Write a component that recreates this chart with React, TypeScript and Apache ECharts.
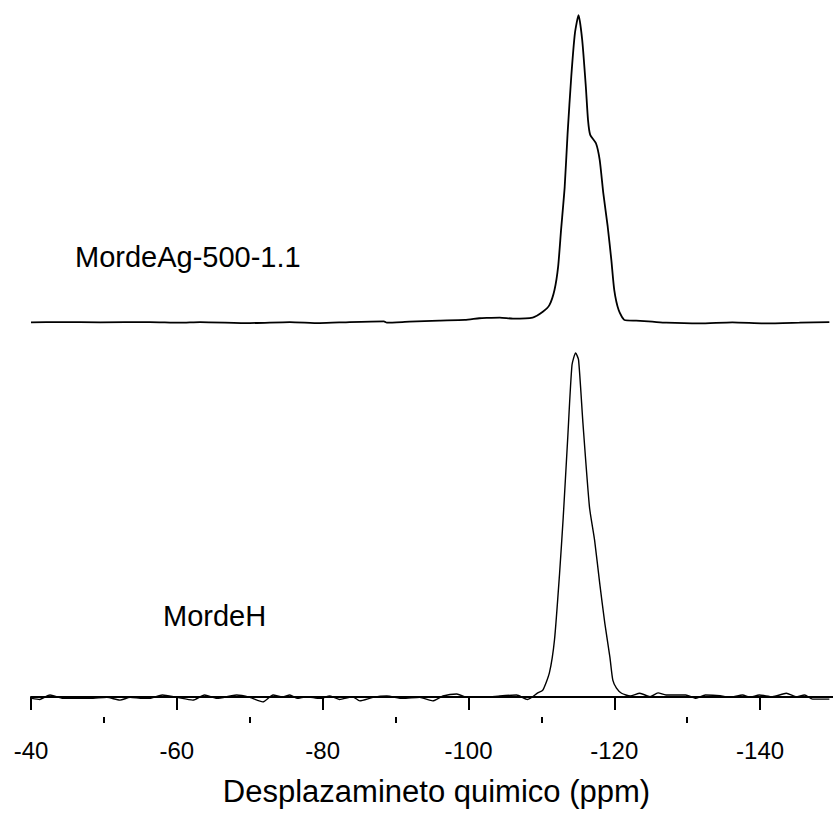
import React, { useEffect, useRef } from "react";
import * as echarts from "echarts";

// Chemical shift (ppm) and intensity (a.u.)
const upperPpm = [
  -40.0, -44.0, -49.5, -56.3, -60.4, -63.2, -70.0, -75.5, -79.6, -83.7, -88.4, -88.8,
  -91.9, -96.0, -99.5, -101.5, -102.5, -104.3, -106.1, -108.8, -110.2, -111.1, -111.8,
  -112.3, -112.7, -113.2, -113.6, -114.1, -114.6, -115.1, -115.6, -116.1, -116.4, -116.7,
  -117.5, -118.0, -118.5, -119.1, -119.6, -120.0, -120.6, -121.4, -123.0, -125.2, -127.1,
  -131.7, -136.2, -140.8, -145.4, -149.5,
];
const upperInt = [
  -0.1, 0, -0.1, 0, -0.2, 0, -0.3, 0, -0.3, 0, 0.2, -0.2,
  0.1, 0.4, 0.6, 1.1, 1.2, 1.3, 1.0, 1.3, 3.0, 4.9, 9.3,
  16.1, 26.7, 39.3, 54.9, 71.3, 83.9, 89.2, 82.0, 68.4, 58.7, 54.4,
  51.9, 47.1, 37.4, 27.7, 18.0, 9.3, 3.5, 0.6, 0.4, 0.1, -0.2,
  -0.4, -0.1, -0.4, -0.2, 0,
];

const lowerPpm = [
  -40.1, -41.2, -42.6, -44.4, -48.1, -50.4, -52.2, -53.6, -55.3, -56.3, -58.0, -60.0,
  -62.2, -63.8, -65.5, -68.2, -70.0, -71.8, -73.2, -74.5, -75.5, -76.5, -77.8, -79.6,
  -81.0, -82.3, -84.1, -85.1, -86.9, -88.8, -91.0, -93.3, -95.1, -96.5, -98.4, -99.8,
  -102.5, -104.3, -106.6, -108.1, -109.5, -110.2, -111.1, -111.8, -112.5, -113.0, -113.6,
  -114.2, -114.7, -115.1, -115.7, -116.6, -117.3, -118.0, -118.7, -119.4, -119.8, -120.3,
  -121.0, -122.2, -123.5, -124.9, -126.0, -127.1, -128.5, -129.8, -131.2, -132.5, -134.5,
  -135.8, -137.6, -138.6, -139.9, -141.7, -143.6, -144.9, -146.1, -147.2, -149.5,
];
const lowerInt = [
  -0.4, -0.7, 0.6, -0.4, -0.4, -0.1, -0.9, -0.1, -0.4, -0.4, 0.6, -0.1,
  -0.9, 0.6, -0.4, 0.6, -0.1, -1.4, 0.6, 0.1, 0.6, -0.4, 0.1, -0.4,
  0.3, -0.7, 0.1, -1.1, -0.1, 0.3, -0.4, -0.1, -1.1, 0.3, 0.9, -0.1,
  -0.1, 0.3, 0.6, -0.7, 1.2, 2.0, 7.0, 16.6, 36.0, 52.3, 74.7,
  96.5, 100, 98.0, 79.7, 55.2, 45.6, 33.1, 21.5, 11.6, 4.9, 2.6,
  1.1, 0.3, 1.1, 0.1, 1.2, 0.6, 0.6, 0.6, -0.4, 0.6, 0.4,
  -0.1, 0.6, -0.1, 0.6, 0.1, 1.1, 0.1, 0.6, -0.6, -0.6,
];

const seriesNames = ["MordeAg-500-1.1", "MordeH"];
const UPPER_OFFSET = 109; // vertical stacking offset of the upper trace
const majorTicks = [-40, -60, -80, -100, -120, -140];
const minorTicks = [-50, -70, -90, -110, -130];
const xTitle = "Desplazamineto quimico (ppm)";

const FONT = "'Liberation Sans', Arial, Helvetica, sans-serif";

export default function App() {
  const ref = useRef<HTMLDivElement>(null);
  useEffect(() => {
    if (!ref.current) return;
    const chart = echarts.init(ref.current, null, { renderer: "svg" });
    const upperData = upperPpm.map((x, i) => [x, upperInt[i] + UPPER_OFFSET]);
    const lowerData = lowerPpm.map((x, i) => [x, lowerInt[i]]);
    chart.setOption({
      animation: false,
      backgroundColor: "#ffffff",
      grid: { left: 31, top: 0, right: 0, height: 717, containLabel: false },
      xAxis: [
        {
          type: "value",
          min: -150,
          max: -40,
          interval: 10,
          inverse: true,
          position: "bottom",
          name: xTitle,
          nameLocation: "middle",
          nameGap: 59,
          nameTextStyle: {
            fontFamily: FONT,
            fontSize: 31,
            color: "#000",
            padding: [0, 0, 0, 9],
          },
          axisLine: { show: true, lineStyle: { color: "#000", width: 2 } },
          axisTick: {
            show: true,
            length: 13,
            customValues: majorTicks,
            lineStyle: { color: "#000", width: 2 },
          },
          splitLine: { show: false },
          axisLabel: {
            margin: 21,
            fontFamily: FONT,
            fontSize: 24,
            color: "#000",
            customValues: majorTicks,
          },
        },
        {
          type: "value",
          min: -150,
          max: -40,
          interval: 10,
          inverse: true,
          position: "bottom",
          offset: 0,
          axisLine: { show: false },
          axisTick: {
            show: true,
            length: 6,
            customValues: minorTicks,
            lineStyle: { color: "#000", width: 2 },
          },
          axisLabel: { show: false },
          splitLine: { show: false },
        },
      ],
      yAxis: {
        type: "value",
        min: -5.8,
        max: 202.6,
        show: false,
      },
      graphic: [
        {
          type: "text",
          x: 75,
          y: 257,
          style: {
            text: seriesNames[0],
            font: `29px ${FONT}`,
            fill: "#000",
            verticalAlign: "middle",
            align: "left",
          },
        },
        {
          type: "text",
          x: 163,
          y: 616,
          style: {
            text: seriesNames[1],
            font: `29px ${FONT}`,
            fill: "#000",
            verticalAlign: "middle",
            align: "left",
          },
        },
      ],
      series: [
        {
          name: seriesNames[0],
          type: "line",
          xAxisIndex: 0,
          data: upperData,
          showSymbol: false,
          symbol: "none",
          smooth: 0.2,
          lineStyle: { color: "#000", width: 1.8 },
        },
        {
          name: seriesNames[1],
          type: "line",
          xAxisIndex: 0,
          data: lowerData,
          showSymbol: false,
          symbol: "none",
          smooth: 0.2,
          lineStyle: { color: "#000", width: 1.4 },
        },
      ],
    });
    return () => chart.dispose();
  }, []);
  return (
    <div
      ref={ref}
      style={{ position: "absolute", left: 0, top: 0, width: 833, height: 817, background: "#fff" }}
    />
  );
}
